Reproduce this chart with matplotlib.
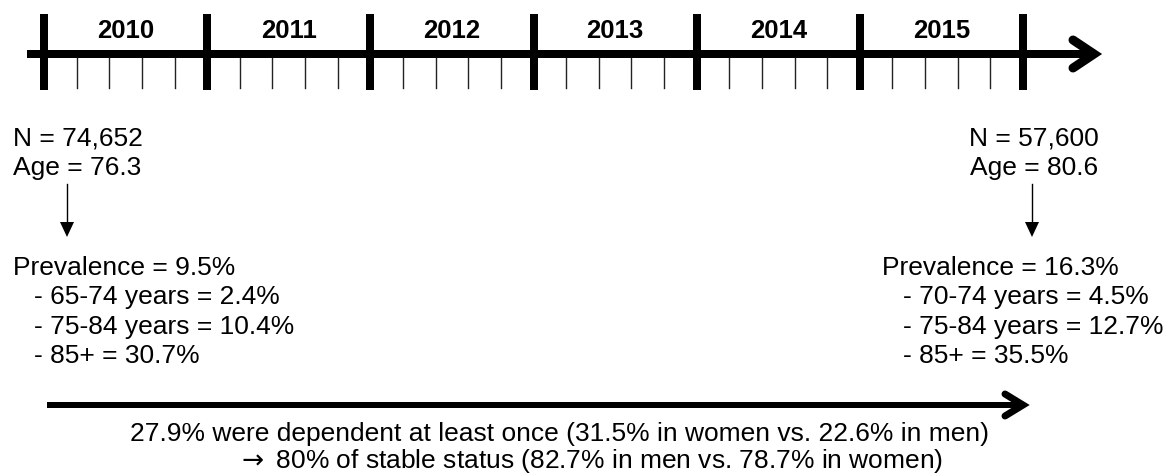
import matplotlib.pyplot as plt

# ==== DATA ====
years = [2010, 2011, 2012, 2013, 2014, 2015]
ticks_per_year = 5

cohort_n = [74652, 57600]          # 2010, 2015
cohort_age = [76.3, 80.6]
prevalence = [9.5, 16.3]
age_groups = [["65-74 years", "75-84 years", "85+"],
              ["70-74 years", "75-84 years", "85+"]]
group_prev = [[2.4, 10.4, 30.7],
              [4.5, 12.7, 35.5]]

dependent_once = 27.9
dependent_women, dependent_men = 31.5, 22.6
stable_status = 80
stable_men, stable_women = 82.7, 78.7

# ==== STYLE ====
plt.rcParams['font.family'] = ['Liberation Sans', 'DejaVu Sans']
PX = 0.72           # points per pixel at dpi 100
FS = 19

fig = plt.figure(figsize=(11.73, 4.77), dpi=100)
ax = fig.add_axes([0, 0, 1, 1])
ax.set_xlim(0, 1173)
ax.set_ylim(477, 0)
ax.axis('off')

# ==== TIMELINE ====
x_first, x_last = 44, 1023
span = (x_last - x_first) / len(years)

def year_x(y):
    return x_first + (y - years[0]) * span

line_y = 55
ax.plot([27, 1094], [line_y, line_y], color='k', lw=8 * PX, solid_capstyle='butt')
ax.plot([1073, 1094, 1073], [41, line_y, 69], color='k', lw=9 * PX,
        solid_capstyle='round', solid_joinstyle='miter')

bounds = years + [years[-1] + 1]
for b in bounds:
    ax.plot([year_x(b)] * 2, [15, 91], color='k', lw=8 * PX, solid_capstyle='butt')

for y in years:
    for k in range(1, ticks_per_year):
        xm = year_x(y + k / ticks_per_year)
        ax.plot([xm, xm], [59, 89], color='#222222', lw=1.0)
    ax.text(year_x(y + 0.5), 38, str(y), ha='center', va='baseline',
            fontsize=18.5, fontweight='bold')

# ==== COHORT BLOCKS ====
def down_arrow(x):
    ax.plot([x, x], [185, 225], color='k', lw=1.0)
    ax.fill([x - 7, x + 7, x], [223, 223, 238], color='k', lw=0)

# 2010 (left aligned)
ax.text(13, 146, f"N = {cohort_n[0]:,}", fontsize=FS, va='baseline')
ax.text(13, 175, f"Age = {cohort_age[0]}", fontsize=FS, va='baseline')
down_arrow(67)

# 2015 (centred on arrow)
ax.text(1034, 146, f"N = {cohort_n[1]:,}", fontsize=FS, va='baseline', ha='center')
ax.text(1034, 175, f"Age = {cohort_age[1]}", fontsize=FS, va='baseline', ha='center')
down_arrow(1032)

for i, x_left in enumerate([13, 882]):
    ax.text(x_left, 275, f"Prevalence = {prevalence[i]}%", fontsize=FS, va='baseline')
    for j, (grp, val) in enumerate(zip(age_groups[i], group_prev[i])):
        ax.text(x_left + 21, 304.5 + j * 29.5, f"- {grp} = {val}%",
                fontsize=FS, va='baseline')

# ==== BOTTOM ARROW ====
ax.plot([47, 1023], [406, 406], color='k', lw=6 * PX, solid_capstyle='butt')
ax.plot([1005, 1023, 1005], [395, 406, 417], color='k', lw=7 * PX,
        solid_capstyle='round', solid_joinstyle='miter')

ax.text(560, 441,
        f"{dependent_once}% were dependent at least once "
        f"({dependent_women}% in women vs. {dependent_men}% in men)",
        fontsize=FS, ha='center', va='baseline')
ax.text(590, 468,
        r"$\rightarrow$" + f" {stable_status}% of stable status "
        f"({stable_men}% in men vs. {stable_women}% in women)",
        fontsize=FS, ha='center', va='baseline')

fig.savefig('out.png', dpi=100)
